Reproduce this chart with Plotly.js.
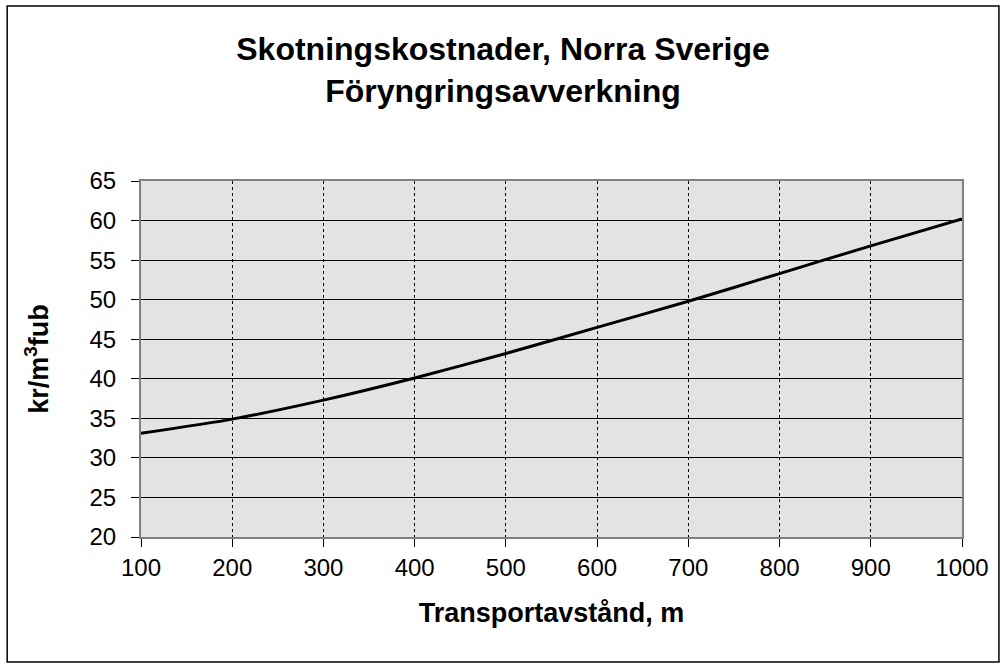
<!DOCTYPE html>
<html><head><meta charset="utf-8">
<script src="https://cdn.plot.ly/plotly-3.0.1.min.js"></script>
<style>html,body{margin:0;padding:0;background:#fff}#c{width:1006px;height:669px}</style>
</head><body><div id="c"></div>
<script>
const distance = [100, 200, 300, 400, 500, 600, 700, 800, 900, 1000];
const cost = [33.1, 34.9, 37.3, 40.1, 43.2, 46.5, 49.8, 53.3, 56.8, 60.2];
const xTicks = [100, 200, 300, 400, 500, 600, 700, 800, 900, 1000];
const yTicks = [20, 25, 30, 35, 40, 45, 50, 55, 60, 65];

const FONT = 'Liberation Sans, Arial, sans-serif';
Plotly.newPlot('c', [{
  x: distance, y: cost, type: 'scatter', mode: 'lines',
  line: {color: '#000', width: 3, shape: 'spline', smoothing: 0.6},
  hoverinfo: 'skip'
}], {
  width: 1006, height: 669,
  margin: {l: 141, r: 44, t: 181, b: 132},
  paper_bgcolor: '#fff', plot_bgcolor: '#e3e3e3',
  showlegend: false,
  font: {family: FONT, color: '#000'},
  title: {text: '<b>Skotningskostnader, Norra Sverige<br>Föryngringsavverkning</b>',
    font: {size: 32, family: FONT, color: '#000'}, x: 0.5, xanchor: 'center', y: 0.91, yanchor: 'middle'},
  xaxis: {range: [100, 1000], tickvals: xTicks, ticktext: xTicks.map(String),
    tickfont: {size: 24}, ticks: 'outside', ticklen: 8, tickcolor: '#000',
    showgrid: true, gridcolor: '#000', gridwidth: 1, griddash: 'dot',
    showline: true, linecolor: '#808080', linewidth: 2, mirror: true, zeroline: false,
    title: {text: '<b>Transportavstånd, m</b>', font: {size: 27}, standoff: 23}},
  yaxis: {range: [20, 65], tickvals: yTicks, ticktext: yTicks.map(String),
    tickfont: {size: 24}, ticks: 'outside', ticklen: 8, tickcolor: '#000',
    ticklabelstandoff: 10,
    showgrid: true, gridcolor: '#000', gridwidth: 1,
    showline: true, linecolor: '#808080', linewidth: 2, mirror: true, zeroline: false,
    title: {text: '<b>kr/m<sup>3</sup>fub</b>', font: {size: 27}, standoff: 33}},
  shapes: [{type: 'rect', xref: 'paper', yref: 'paper',
    x0: -0.163, x1: 1.045, y0: -0.351, y1: 1.4916,
    line: {color: '#000', width: 1.5}, fillcolor: 'rgba(0,0,0,0)', layer: 'below'}]
}, {displayModeBar: false, staticPlot: true});
</script></body></html>
